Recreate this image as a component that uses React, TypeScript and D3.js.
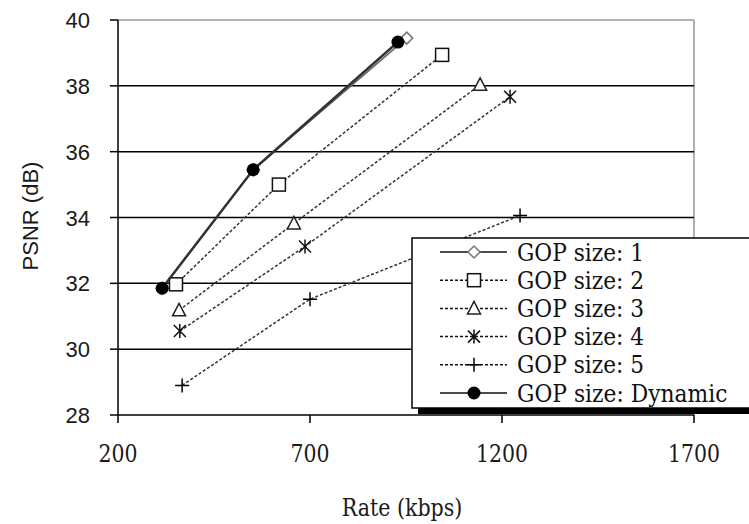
import React from "react";
import * as d3 from "d3";

const W = 749;
const H = 524;

const xTicks = [200, 700, 1200, 1700];
const yTicks = [28, 30, 32, 34, 36, 38, 40];
const gridValues = [30, 32, 34, 36, 38];

const gop1Rate = [315, 552, 952];
const gop1Psnr = [31.85, 35.45, 39.45];
const gop2Rate = [351, 619, 1044];
const gop2Psnr = [31.97, 35.0, 38.94];
const gop3Rate = [359, 658, 1143];
const gop3Psnr = [31.18, 33.82, 38.03];
const gop4Rate = [361, 687, 1221];
const gop4Psnr = [30.55, 33.12, 37.67];
const gop5Rate = [367, 700, 1247];
const gop5Psnr = [28.9, 31.52, 34.06];
const dynRate = [315, 552, 929];
const dynPsnr = [31.85, 35.45, 39.33];

const legendLabels = [
  "GOP size: 1",
  "GOP size: 2",
  "GOP size: 3",
  "GOP size: 4",
  "GOP size: 5",
  "GOP size: Dynamic",
];

type Marker = "diamond" | "square" | "triangle" | "star" | "plus" | "circle";

const seriesDefs: { rate: number[]; psnr: number[]; marker: Marker; dashed: boolean }[] = [
  { rate: gop1Rate, psnr: gop1Psnr, marker: "diamond", dashed: false },
  { rate: gop2Rate, psnr: gop2Psnr, marker: "square", dashed: true },
  { rate: gop3Rate, psnr: gop3Psnr, marker: "triangle", dashed: true },
  { rate: gop4Rate, psnr: gop4Psnr, marker: "star", dashed: true },
  { rate: gop5Rate, psnr: gop5Psnr, marker: "plus", dashed: true },
  { rate: dynRate, psnr: dynPsnr, marker: "circle", dashed: false },
];

const x = d3.scaleLinear().domain([200, 1700]).range([118, 694]);
const y = d3.scaleLinear().domain([28, 40]).range([415, 20]);

const SANS = "Liberation Sans";
const SERIF = "DejaVu Serif";

// Times-like advance widths (em) used to size the serif text like the original
const timesW: Record<string, number> = {
  G: 0.722, O: 0.722, P: 0.556, " ": 0.25, s: 0.389, i: 0.278, z: 0.444, e: 0.444, ":": 0.278,
  D: 0.722, y: 0.5, n: 0.5, a: 0.444, m: 0.778, c: 0.444, R: 0.667, t: 0.278, "(": 0.333,
  ")": 0.333, k: 0.5, b: 0.5, p: 0.5,
};
const tlen = (s: string, size: number) =>
  s.split("").reduce((acc, ch) => acc + (timesW[ch] ?? 0.5), 0) * size;

function MarkerShape({ kind, cx, cy }: { kind: Marker; cx: number; cy: number }) {
  switch (kind) {
    case "diamond":
      return (
        <path
          d={`M${cx},${cy - 6}L${cx + 6},${cy}L${cx},${cy + 6}L${cx - 6},${cy}Z`}
          fill="#fff"
          stroke="#777"
          strokeWidth={1.5}
        />
      );
    case "square":
      return <rect x={cx - 6.5} y={cy - 6.5} width={13} height={13} fill="#fff" stroke="#111" strokeWidth={1.5} />;
    case "triangle":
      return (
        <path
          d={`M${cx},${cy - 7}L${cx + 6.5},${cy + 5.5}L${cx - 6.5},${cy + 5.5}Z`}
          fill="#fff"
          stroke="#222"
          strokeWidth={1.5}
        />
      );
    case "star":
      return (
        <path
          d={`M${cx - 6},${cy - 6}L${cx + 6},${cy + 6}M${cx + 6},${cy - 6}L${cx - 6},${cy + 6}M${cx},${cy - 7}L${cx},${cy + 7}`}
          fill="none"
          stroke="#111"
          strokeWidth={1.5}
        />
      );
    case "plus":
      return (
        <path
          d={`M${cx - 7},${cy}L${cx + 7},${cy}M${cx},${cy - 7}L${cx},${cy + 7}`}
          fill="none"
          stroke="#000"
          strokeWidth={1.5}
        />
      );
    case "circle":
      return <circle cx={cx} cy={cy} r={6.5} fill="#000" />;
  }
}

export default function App() {
  const line = d3
    .line<[number, number]>()
    .x((d) => x(d[0]))
    .y((d) => y(d[1]));

  const legendX = 412;
  const legendY = 238;
  const legendW = 360;
  const legendH = 170;
  const rowY = (i: number) => 252 + i * 28.2;

  return (
    <svg
      width={W}
      height={H}
      style={{ position: "absolute", left: 0, top: 0, background: "#fff" }}
      xmlns="http://www.w3.org/2000/svg"
    >
      <rect x={0} y={0} width={W} height={H} fill="#fff" />
      <line x1={x(200)} x2={x(1700)} y1={y(40)} y2={y(40)} stroke="#999" strokeWidth={1.5} />
      <line x1={x(1700)} x2={x(1700)} y1={y(40)} y2={y(28)} stroke="#999" strokeWidth={1.5} />
      {gridValues.map((v) => (
        <line key={v} x1={x(200)} x2={x(1700)} y1={y(v)} y2={y(v)} stroke="#000" strokeWidth={1.5} />
      ))}
      <line x1={x(200)} x2={x(200)} y1={y(40)} y2={y(28)} stroke="#000" strokeWidth={1.5} />
      <line x1={x(200)} x2={x(1700)} y1={y(28)} y2={y(28)} stroke="#000" strokeWidth={1.5} />
      {yTicks.map((v) => (
        <g key={v}>
          <line x1={x(200) - 8} x2={x(200)} y1={y(v)} y2={y(v)} stroke="#000" strokeWidth={1.5} />
          <text x={90} y={y(v) + 8} textAnchor="end" fontFamily={SANS} fontSize={22} fill="#1a1a1a">
            {v}
          </text>
        </g>
      ))}
      {xTicks.map((v) => (
        <g key={v}>
          <line x1={x(v)} x2={x(v)} y1={y(28)} y2={y(28) + 8} stroke="#000" strokeWidth={1.5} />
          <text
            x={x(v)}
            y={462}
            textAnchor="middle"
            fontFamily={SERIF}
            fontSize={24}
            textLength={tlen(String(v), 26)}
            lengthAdjust="spacingAndGlyphs"
            fill="#1a1a1a"
          >
            {v}
          </text>
        </g>
      ))}
      <text
        x={402}
        y={516}
        textAnchor="middle"
        fontFamily={SERIF}
        fontSize={24}
        textLength={tlen("Rate (kbps)", 26)}
        lengthAdjust="spacingAndGlyphs"
        fill="#1a1a1a"
      >
        Rate (kbps)
      </text>
      <text
        transform={`translate(38,216) rotate(-90)`}
        textAnchor="middle"
        fontFamily={SANS}
        fontSize={22}
        fill="#1a1a1a"
      >
        PSNR (dB)
      </text>

      {seriesDefs.map((s, i) => {
        const pts: [number, number][] = s.rate.map((r, j) => [r, s.psnr[j]]);
        return (
          <g key={i}>
            <path
              d={line(pts) || ""}
              fill="none"
              stroke={s.marker === "circle" ? "#333" : s.dashed ? "#333" : "#666"}
              strokeWidth={s.marker === "circle" ? 2.5 : 1.5}
              strokeDasharray={s.dashed ? "3,2" : undefined}
            />
            {pts.map((p, j) => (
              <MarkerShape key={j} kind={s.marker} cx={x(p[0])} cy={y(p[1])} />
            ))}
          </g>
        );
      })}

      <rect x={legendX + 6} y={legendY + 6} width={legendW} height={legendH} fill="#000" />
      <rect x={legendX} y={legendY} width={legendW} height={legendH} fill="#fff" stroke="#000" strokeWidth={1.5} />
      {seriesDefs.map((s, i) => (
        <g key={i}>
          <line
            x1={440}
            x2={507}
            y1={rowY(i)}
            y2={rowY(i)}
            stroke="#111"
            strokeWidth={1.5}
            strokeDasharray={s.dashed ? "3,2" : undefined}
          />
          <MarkerShape kind={s.marker} cx={474} cy={rowY(i)} />
          <text
            x={517}
            y={rowY(i) + 8.5}
            fontFamily={SERIF}
            fontSize={24}
            textLength={tlen(legendLabels[i], 26.3)}
            lengthAdjust="spacingAndGlyphs"
            fill="#111"
          >
            {legendLabels[i]}
          </text>
        </g>
      ))}
    </svg>
  );
}
